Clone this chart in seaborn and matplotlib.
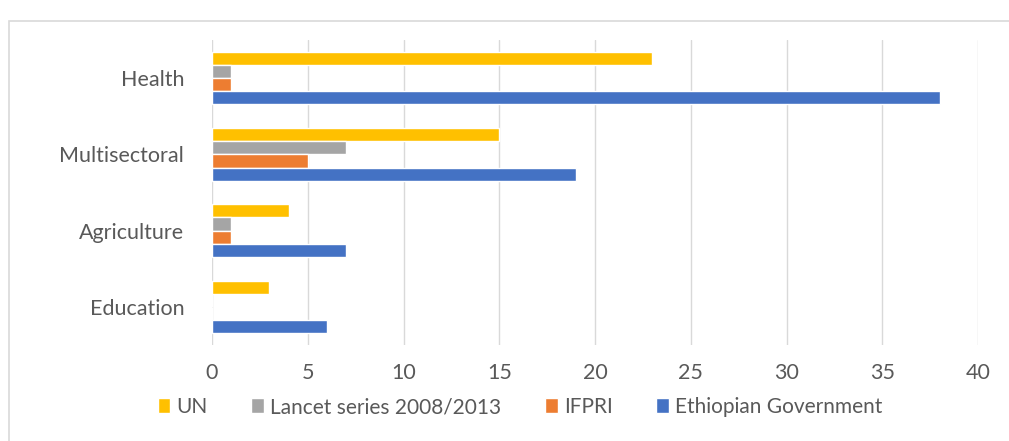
import matplotlib
matplotlib.use("Agg")
import matplotlib.pyplot as plt
from matplotlib.patches import Rectangle
import seaborn as sns
import pandas as pd

categories = ["Health", "Multisectoral", "Agriculture", "Education"]
series = ["UN", "Lancet series 2008/2013", "IFPRI", "Ethiopian Government"]
un = [23, 15, 4, 3]
lancet = [1, 7, 1, 0]
ifpri = [1, 5, 1, 0]
ethiopia = [38, 19, 7, 6]
colors = ["#FFC000", "#A5A5A5", "#ED7D31", "#4472C4"]
xticks = [0, 5, 10, 15, 20, 25, 30, 35, 40]

rows = []
for name, vals in zip(series, [un, lancet, ifpri, ethiopia]):
    for c, v in zip(categories, vals):
        rows.append({"Category": c, "Source": name, "Value": v})
df = pd.DataFrame(rows)

sns.set_theme(style="white")
plt.rcParams["font.family"] = ["Lato", "DejaVu Sans"]

fig = plt.figure(figsize=(10.09, 4.41), dpi=100)
ax = fig.add_axes([212 / 1009, 1 - 345 / 441, (978 - 212) / 1009, (345 - 40) / 441])

sns.barplot(data=df, y="Category", x="Value", hue="Source", order=categories,
            hue_order=series, palette=colors, orient="h", width=0.69,
            saturation=1, ax=ax, legend=True)

ax.set_xlim(0, 40)
ax.set_ylim(3.5, -0.5)
ax.set_xticks(xticks)
ax.set_xlabel("")
ax.set_ylabel("")
ax.grid(axis="x", color="#D9D9D9", linewidth=1)
ax.set_axisbelow(True)
for s in ax.spines.values():
    s.set_visible(False)
ax.tick_params(axis="both", length=0, labelsize=15.5, colors="#595959")
ax.tick_params(axis="y", pad=20)
ax.tick_params(axis="x", pad=13)

ax.legend_.remove()
handles, labels = ax.get_legend_handles_labels()
fig.legend(handles, labels, loc="center", bbox_to_anchor=(520 / 1009, 1 - 407 / 441),
           ncol=4, frameon=False, fontsize=15, handlelength=0.6, handleheight=0.75,
           handletextpad=0.3, columnspacing=2.1, labelcolor="#595959")

fig.patches.append(Rectangle((9 / 1009, -0.1), 1.2, 0.1 + 1 - 21 / 441,
                             transform=fig.transFigure, fill=False,
                             edgecolor="#D9D9D9", linewidth=1.2))

fig.savefig("out.png", dpi=100)
